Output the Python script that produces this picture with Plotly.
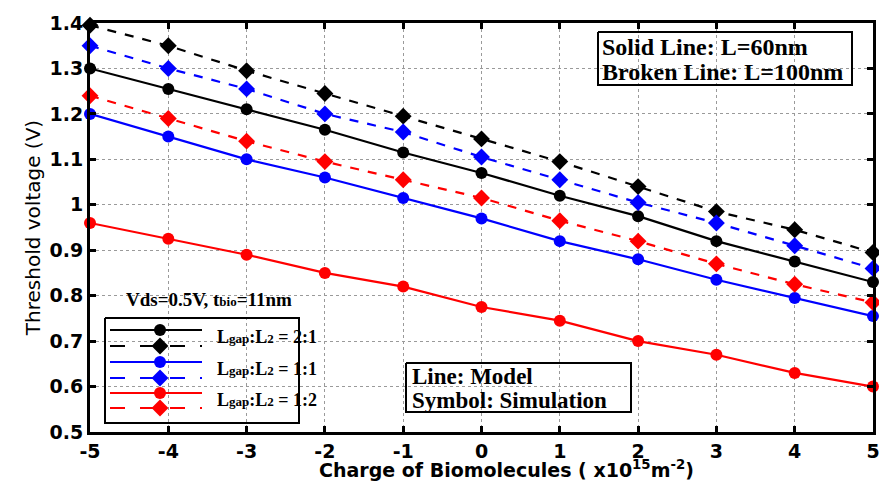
import plotly.graph_objects as go

charge = [-5, -4, -3, -2, -1, 0, 1, 2, 3, 4, 5]
vt_21_60 = [1.30, 1.255, 1.21, 1.165, 1.115, 1.07, 1.02, 0.975, 0.92, 0.875, 0.83]
vt_21_100 = [1.395, 1.35, 1.295, 1.245, 1.195, 1.145, 1.095, 1.04, 0.985, 0.945, 0.895]
vt_11_60 = [1.20, 1.15, 1.10, 1.06, 1.015, 0.97, 0.92, 0.88, 0.835, 0.795, 0.755]
vt_11_100 = [1.35, 1.30, 1.255, 1.20, 1.16, 1.105, 1.055, 1.005, 0.96, 0.91, 0.86]
vt_12_60 = [0.96, 0.925, 0.89, 0.85, 0.82, 0.775, 0.745, 0.70, 0.67, 0.63, 0.60]
vt_12_100 = [1.24, 1.19, 1.14, 1.095, 1.055, 1.015, 0.965, 0.92, 0.87, 0.825, 0.785]

x_ticks = [-5, -4, -3, -2, -1, 0, 1, 2, 3, 4, 5]
y_ticks = [0.5, 0.6, 0.7, 0.8, 0.9, 1.0, 1.1, 1.2, 1.3, 1.4]
y_tick_text = ["0.5", "0.6", "0.7", "0.8", "0.9", "1", "1.1", "1.2", "1.3", "1.4"]

series = [
    (vt_21_60, "black", "solid", "circle"),
    (vt_21_100, "black", "dash", "diamond"),
    (vt_11_60, "blue", "solid", "circle"),
    (vt_11_100, "blue", "dash", "diamond"),
    (vt_12_60, "red", "solid", "circle"),
    (vt_12_100, "red", "dash", "diamond"),
]
legend_labels = ["2:1", "1:1", "1:2"]

# plot-area geometry in pixels (used only to place the hand-made boxes/legend)
XMIN, XMAX, YMIN, YMAX = -5, 5, 0.5, 1.4
PX0, PX1, PY0, PY1 = 90, 873, 23, 432
def fx(px):
    return (px - PX0) / (PX1 - PX0)
def fy(py):
    return (PY1 - py) / (PY1 - PY0)
def dx(px):
    return XMIN + fx(px) * (XMAX - XMIN)
def dy(py):
    return YMIN + fy(py) * (YMAX - YMIN)

fig = go.Figure()
for vals, col, dash, sym in series:
    fig.add_trace(go.Scatter(
        x=charge, y=vals, mode="lines+markers",
        line=dict(color=col, width=2.2, dash=dash),
        marker=dict(color=col, symbol=sym, size=13 if sym == "diamond" else 12),
        showlegend=False, hoverinfo="skip", cliponaxis=False))

# ---- outline boxes (legend + two notes); the grid shows through them ----
def box(x0, x1, y0, y1):
    fig.add_trace(go.Scatter(
        x=[dx(x0), dx(x1), dx(x1), dx(x0), dx(x0)],
        y=[dy(y0), dy(y0), dy(y1), dy(y1), dy(y0)],
        mode="lines", line=dict(color="black", width=2),
        showlegend=False, hoverinfo="skip"))

box(105, 299, 318, 423)
box(598, 852, 32, 85)
box(406, 631, 363, 412)

# ---- hand-made legend samples ----
row_y = [330, 346, 362, 378, 393, 408]
for (vals, col, dash, sym), ry in zip(series, row_y):
    fig.add_trace(go.Scatter(
        x=[dx(110), dx(202)], y=[dy(ry), dy(ry)], mode="lines",
        line=dict(color=col, width=2.2, dash="longdash" if dash == "dash" else dash),
        showlegend=False, hoverinfo="skip"))
    fig.add_trace(go.Scatter(
        x=[dx(160)], y=[dy(ry)], mode="markers",
        marker=dict(color=col, symbol=sym, size=13 if sym == "diamond" else 12),
        showlegend=False, hoverinfo="skip"))

serif = "Liberation Serif"
annotations = []
def ann(x, y, text, size, family=serif, xanchor="left"):
    annotations.append(dict(xref="paper", yref="paper", x=fx(x), y=fy(y), text=text,
                            showarrow=False, xanchor=xanchor, yanchor="middle",
                            font=dict(family=family, size=size, color="black")))

ann(600, 47, "<b>Solid Line: L=60nm</b>", 24)
ann(600, 72, "<b>Broken Line: L=100nm</b>", 24)
ann(410, 376, "<b>Line: Model</b>", 23)
ann(410, 400, "<b>Symbol: Simulation</b>", 23)
ann(124, 299, "<b>Vds=0.5V, t<span style='font-size:13px'>bio</span>=11nm</b>", 19)
for lab, ly in zip(legend_labels, [337, 369, 400]):
    ann(215, ly, "<b>L<span style='font-size:13px'>gap</span>:L<span style='font-size:13px'>2</span> = " + lab + "</b>", 18)
# x-axis title (placed slightly right of centre as in the original)
ann(506, 469, "<b>Charge of Biomolecules ( x10<sup>15</sup>m<sup>-2</sup>)</b>", 19,
    family="DejaVu Sans", xanchor="center")

fig.update_layout(
    width=879, height=482,
    margin=dict(l=90, r=6, t=23, b=50),
    paper_bgcolor="white", plot_bgcolor="white",
    annotations=annotations,
    xaxis=dict(range=[XMIN, XMAX], tickvals=x_ticks, ticktext=[str(v) for v in x_ticks],
               showgrid=True, gridcolor="#9a9a9a", griddash="dot", gridwidth=1.2,
               showline=True, linecolor="black", linewidth=3, mirror="allticks",
               ticks="inside", ticklen=6, tickwidth=2.5, tickcolor="black",
               zeroline=False, ticklabeloverflow="allow", automargin=False,
               tickfont=dict(family="DejaVu Sans", size=19, color="black", weight="bold")),
    yaxis=dict(range=[YMIN, YMAX], tickvals=y_ticks, ticktext=y_tick_text,
               showgrid=True, gridcolor="#9a9a9a", griddash="dot", gridwidth=1.2,
               showline=True, linecolor="black", linewidth=3, mirror="allticks",
               ticks="inside", ticklen=6, tickwidth=2.5, tickcolor="black",
               zeroline=False, ticklabeloverflow="allow", automargin=False,
               tickfont=dict(family="DejaVu Sans", size=19, color="black", weight="bold"),
               title=dict(text="Threshold voltage (V)",
                          font=dict(family="DejaVu Sans", size=20, color="black"), standoff=4)),
)

fig.write_html("out.html")
